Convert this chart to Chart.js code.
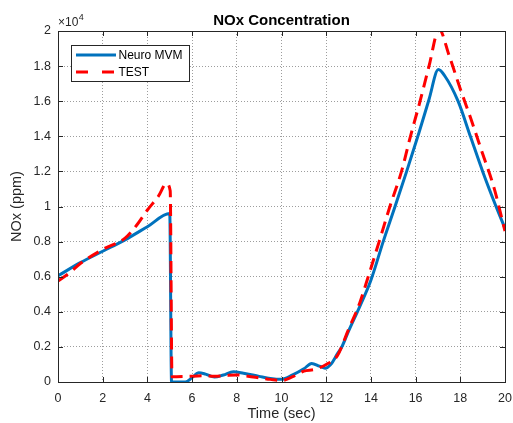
<!DOCTYPE html>
<html>
<head>
<meta charset="utf-8">
<script src="https://cdn.jsdelivr.net/npm/chart.js@4"></script>
<style>
  html, body { margin: 0; padding: 0; background: #fff; }
  #wrap { width: 513px; height: 423px; }
</style>
</head>
<body>
<div id="wrap"><canvas id="chart" width="513" height="423"></canvas></div>
<script>
// Data (NOx in ppm, time in sec)
const mvmTime = [0, 1, 2, 3, 4, 5.0, 5.08, 5.7, 6.0, 6.3, 6.6, 7.0, 7.4, 7.85, 8.3, 9.0, 9.5, 10.0, 10.5, 11.0, 11.35, 11.7, 11.95, 12.2, 12.5, 12.7, 13.0, 13.5, 14.0, 14.55, 15.08, 15.6, 16.15, 16.6, 17.02, 17.3, 17.9, 18.45, 19.0, 19.6, 20];
const mvmNox  = [6050, 6800, 7450, 8100, 8850, 9600, 0, 0, 250, 530, 450, 280, 400, 590, 500, 320, 200, 150, 400, 750, 1060, 900, 790, 1000, 1600, 2000, 2900, 4300, 5800, 8000, 10000, 12000, 14200, 16100, 17800, 17450, 16000, 14000, 12000, 10000, 8750];

const testTime = [0, 0.5, 1, 2, 3, 3.5, 4, 4.5, 4.85, 5.02, 5.1, 5.8, 6.5, 7.0, 7.5, 8.0, 8.5, 9.0, 9.5, 10.0, 10.5, 11.0, 11.5, 12.0, 12.5, 13.0, 13.5, 13.88, 14.37, 14.85, 15.37, 15.77, 16.2, 16.6, 17.05, 17.5, 18.0, 18.5, 19.0, 19.5, 20];
const testNox  = [5750, 6200, 6750, 7550, 8200, 8900, 9800, 10600, 11300, 10900, 300, 320, 350, 330, 370, 400, 330, 240, 150, 80, 300, 620, 720, 1000, 1500, 3000, 4500, 6000, 8000, 10000, 12000, 14000, 16000, 18000, 20100, 18600, 16700, 14900, 13000, 11100, 8600];

const xTicks = [0, 2, 4, 6, 8, 10, 12, 14, 16, 18, 20];
const yTicks = [0, 2000, 4000, 6000, 8000, 10000, 12000, 14000, 16000, 18000, 20000];

const chartTitle = 'NOx Concentration';
const axisColor = '#262626';
const gridColor = 'rgba(38,38,38,0.45)';
const fontFamily = '"Liberation Sans", Arial, sans-serif';

function toPoints(xs, ys) {
    return xs.map((x, i) => ({ x: x, y: ys[i] }));
}

// box, inward tick marks, title, exponent label and legend (MATLAB look)
const matlabAxes = {
    id: 'matlabAxes',
    afterDatasetsDraw(chart) {
        const ctx = chart.ctx;
        const a = chart.chartArea;
        const xs = chart.scales.x, ys = chart.scales.y;
        ctx.save();
        ctx.strokeStyle = axisColor;
        ctx.lineWidth = 1;
        ctx.setLineDash([]);
        ctx.strokeRect(Math.round(a.left) + 0.5, Math.round(a.top) + 0.5,
            Math.round(a.right - a.left), Math.round(a.bottom - a.top));
        ctx.beginPath();
        xTicks.forEach(v => {
            const px = Math.round(xs.getPixelForValue(v)) + 0.5;
            ctx.moveTo(px, a.bottom); ctx.lineTo(px, a.bottom - 5);
            ctx.moveTo(px, a.top); ctx.lineTo(px, a.top + 5);
        });
        yTicks.forEach(v => {
            const py = Math.round(ys.getPixelForValue(v)) + 0.5;
            ctx.moveTo(a.left, py); ctx.lineTo(a.left + 5, py);
            ctx.moveTo(a.right, py); ctx.lineTo(a.right - 5, py);
        });
        ctx.stroke();

        // title centred over the axes
        ctx.fillStyle = '#000';
        ctx.textAlign = 'center';
        ctx.textBaseline = 'alphabetic';
        ctx.font = 'bold 15px ' + fontFamily;
        ctx.fillText(chartTitle, (a.left + a.right) / 2, 25);

        // x10^4
        ctx.fillStyle = axisColor;
        ctx.textAlign = 'left';
        ctx.font = '12px ' + fontFamily;
        ctx.fillText('\u00d710', a.left, a.top - 5);
        const w = ctx.measureText('\u00d710').width;
        ctx.font = '9px ' + fontFamily;
        ctx.fillText('4', a.left + w + 0.5, a.top - 11);

        // legend
        const lx = 71.5, ly = 45.5, lw = 118, lh = 36;
        ctx.fillStyle = '#fff';
        ctx.fillRect(lx, ly, lw, lh);
        ctx.strokeStyle = axisColor;
        ctx.lineWidth = 1;
        ctx.strokeRect(lx, ly, lw, lh);
        const rows = [55, 72];
        chart.data.datasets.forEach((ds, i) => {
            ctx.beginPath();
            ctx.strokeStyle = ds.borderColor;
            ctx.lineWidth = ds.borderWidth;
            ctx.setLineDash(ds.legendDash || []);
            ctx.moveTo(76, rows[i]); ctx.lineTo(116, rows[i]);
            ctx.stroke();
            ctx.setLineDash([]);
            ctx.fillStyle = '#000';
            ctx.font = '12px ' + fontFamily;
            ctx.textBaseline = 'middle';
            ctx.fillText(ds.label, 118.5, rows[i] + 0.5);
        });
        ctx.restore();
    }
};

const ctx = document.getElementById('chart').getContext('2d');
const chart = new Chart(ctx, {
    type: 'line',
    data: {
        datasets: [{
            label: 'Neuro MVM',
            data: toPoints(mvmTime, mvmNox),
            borderColor: '#0072BD',
            borderWidth: 3,
            pointRadius: 0,
            cubicInterpolationMode: 'monotone',
            order: 2
        }, {
            label: 'TEST',
            data: toPoints(testTime, testNox),
            borderColor: '#FF0000',
            borderWidth: 3,
            borderDash: [12, 7],
            legendDash: [12, 14],
            pointRadius: 0,
            cubicInterpolationMode: 'monotone',
            order: 1
        }]
    },
    options: {
        responsive: false,
        animation: false,
        events: [],
        layout: { padding: { left: 0, right: 8, top: 31, bottom: 0 } },
        plugins: {
            legend: { display: false },
            tooltip: { enabled: false },
            title: { display: false }
        },
        scales: {
            x: {
                type: 'linear',
                min: 0,
                max: 20,
                afterBuildTicks: scale => { scale.ticks = xTicks.map(v => ({ value: v })); },
                afterFit: scale => {
                    scale.height = 41;
                    scale.paddingLeft = 0;
                    scale.paddingRight = 0;
                },
                border: { display: false, dash: [1, 2] },
                grid: { color: gridColor, drawTicks: false, lineWidth: 1 },
                ticks: {
                    color: axisColor,
                    padding: 9,
                    maxRotation: 0,
                    font: { family: fontFamily, size: 12.5 }
                },
                title: {
                    display: true,
                    text: 'Time (sec)',
                    color: axisColor,
                    padding: { top: 0, bottom: 0 },
                    font: { family: fontFamily, size: 14.5 }
                }
            },
            y: {
                type: 'linear',
                min: 0,
                max: 20000,
                afterBuildTicks: scale => { scale.ticks = yTicks.map(v => ({ value: v })); },
                afterFit: scale => {
                    scale.width = 58;
                    scale.paddingTop = 0;
                    scale.paddingBottom = 0;
                },
                border: { display: false, dash: [1, 2] },
                grid: { color: gridColor, drawTicks: false, lineWidth: 1 },
                ticks: {
                    color: axisColor,
                    padding: 7,
                    font: { family: fontFamily, size: 12.5 },
                    callback: v => String(+(v / 10000).toFixed(1))
                },
                title: {
                    display: true,
                    text: 'NOx (ppm)',
                    color: axisColor,
                    padding: { top: 8, bottom: 0 },
                    font: { family: fontFamily, size: 14.5 }
                }
            }
        }
    },
    plugins: [matlabAxes]
});
</script>
</body>
</html>
